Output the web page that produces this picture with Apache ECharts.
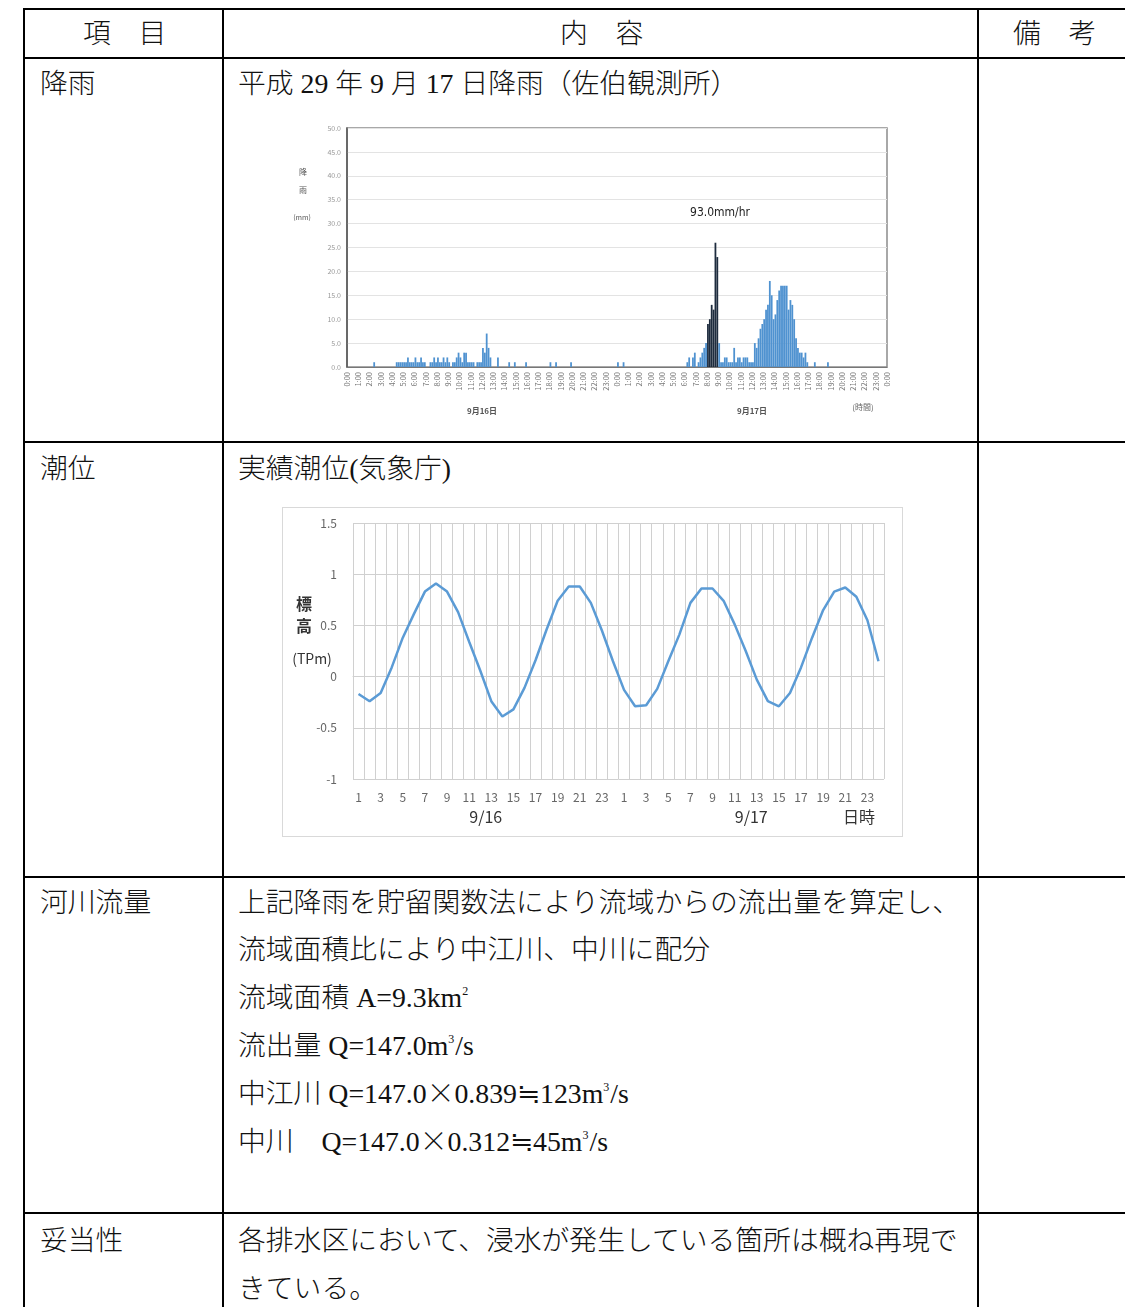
<!DOCTYPE html>
<html><head><meta charset="utf-8">
<script src="https://cdn.jsdelivr.net/npm/echarts@6/dist/echarts.min.js"></script>
<style>
html,body{margin:0;padding:0;background:#fff;}
body{width:1125px;height:1307px;position:relative;overflow:hidden;font-family:"Liberation Serif","Noto Sans CJK JP",serif;color:#111;}
.h{position:absolute;height:2px;background:#000;left:23px;right:0;}
.v{position:absolute;width:2px;background:#000;top:8px;bottom:0;}
.t{position:absolute;font-size:27.8px;line-height:32px;white-space:nowrap;font-weight:300;}
.j{font-family:"Noto Sans CJK JP",sans-serif;line-height:0;}
sup{font-size:12px;vertical-align:baseline;position:relative;top:-12px;line-height:0;margin-right:1px;}
#rain{position:absolute;left:280px;top:115px;width:630px;height:320px;}
#tideBox{position:absolute;left:282px;top:507px;width:621px;height:330px;border:1px solid #d9d9d9;box-sizing:border-box;}
#tide{position:absolute;left:282px;top:507px;width:621px;height:330px;}
</style></head>
<body>
<div class="h" style="top:8px"></div>
<div class="h" style="top:57px"></div>
<div class="h" style="top:441px"></div>
<div class="h" style="top:876px"></div>
<div class="h" style="top:1212px"></div>
<div class="v" style="left:23px"></div>
<div class="v" style="left:222px"></div>
<div class="v" style="left:977px"></div>

<div class="t" style="left:83px;top:18px">項　目</div>
<div class="t" style="left:560px;top:18px">内　容</div>
<div class="t" style="left:1013px;top:18px">備　考</div>

<div class="t" style="left:40px;top:68px">降雨</div>
<div class="t" style="left:238px;top:68px">平成 29 年 9 月 17 日降雨（佐伯観測所）</div>

<div class="t" style="left:40px;top:453px">潮位</div>
<div class="t" style="left:238px;top:453px">実績潮位(気象庁)</div>

<div class="t" style="left:40px;top:887px">河川流量</div>
<div class="t" style="left:238px;top:887px">上記降雨を貯留関数法により流域からの流出量を算定し、</div>
<div class="t" style="left:238px;top:934px">流域面積比により中江川、中川に配分</div>
<div class="t" style="left:238px;top:982px">流域面積 A=9.3km<sup>2</sup></div>
<div class="t" style="left:238px;top:1030px">流出量 Q=147.0m<sup>3</sup>/s</div>
<div class="t" style="left:238px;top:1078px">中江川 Q=147.0<span class="j">×</span>0.839<span class="j">≒</span>123m<sup>3</sup>/s</div>
<div class="t" style="left:238px;top:1126px">中川　Q=147.0<span class="j">×</span>0.312<span class="j">≒</span>45m<sup>3</sup>/s</div>

<div class="t" style="left:40px;top:1225px">妥当性</div>
<div class="t" style="left:238px;top:1225px">各排水区において、浸水が発生している箇所は概ね再現で</div>
<div class="t" style="left:238px;top:1273px">きている。</div>

<div id="rain"></div>
<div id="tideBox"></div>
<div id="tide"></div>

<script>
// ---- Rainfall (10-minute values, mm) 9/16 0:00 - 9/17 24:00, one row per hour ----
const rain10min = [
  0,0,0,0,0,0,
  0,0,0,0,0,0,
  0,0,1,0,0,0,
  0,0,0,0,0,0,
  0,0,1,1,1,1,
  1,1,2,1,1,1,
  2,1,1,2,1,1,
  0,0,1,1,2,1,
  2,1,1,2,1,2,
  1,0,1,1,2,3,
  2,1,3,3,1,1,
  1,1,0,1,1,1,
  4,3,7,4,2,0,
  0,0,2,0,0,0,
  0,0,1,0,0,1,
  0,0,0,0,0,1,
  0,0,0,0,0,0,
  0,0,0,0,0,0,
  1,0,0,1,0,0,
  0,0,0,0,0,1,
  0,0,0,0,0,0,
  0,0,0,0,0,0,
  0,0,0,0,0,0,
  0,0,0,0,0,0,
  1,0,0,1,0,0,
  0,0,0,0,0,0,
  0,0,0,0,0,0,
  0,0,0,0,0,0,
  0,0,0,0,0,0,
  0,0,0,0,0,0,
  0,1,2,0,2,3,
  0,1,2,3,4,5,
  9,10,13,12,26,23,
  5,1,1,2,2,1,
  1,1,4,1,2,2,
  1,2,2,2,1,1,
  1,5,4,6,8,9,
  10,12,13,18,15,10,
  11,14,16,17,17,17,
  17,12,14,13,10,6,
  4,3,3,2,3,1,
  0,0,0,1,0,0,
  0,0,0,0,1,0,
  0,0,0,0,0,0,
  0,0,0,0,0,0,
  0,0,0,0,0,0,
  0,0,0,0,0,0,
  0,0,0,0,0,0
];
// slots forming the maximum hourly rainfall (93.0 mm/hr)
const peakSlots = [192,193,194,195,196,197];
const peakLabel = "93.0mm/hr";
const rainHourLabels = [
  "0:00","1:00","2:00","3:00","4:00","5:00","6:00","7:00","8:00","9:00","10:00","11:00",
  "12:00","13:00","14:00","15:00","16:00","17:00","18:00","19:00","20:00","21:00","22:00","23:00",
  "0:00","1:00","2:00","3:00","4:00","5:00","6:00","7:00","8:00","9:00","10:00","11:00",
  "12:00","13:00","14:00","15:00","16:00","17:00","18:00","19:00","20:00","21:00","22:00","23:00",
  "0:00"
];
const rainDays = ["9月16日","9月17日"];
const rainYTicks = {min:0, max:50, interval:5};

// ---- Tide level (TPm), hourly ----
const tideHours = [
  "1","2","3","4","5","6","7","8","9","10","11","12","13","14","15","16","17","18","19","20","21","22","23","24",
  "1","2","3","4","5","6","7","8","9","10","11","12","13","14","15","16","17","18","19","20","21","22","23","24"
];
const tide0916 = [-0.17,-0.24,-0.16,0.09,0.38,0.61,0.83,0.91,0.83,0.63,0.34,0.06,-0.24,-0.39,-0.32,-0.11,0.16,0.46,0.74,0.88,0.88,0.72,0.45,0.15];
const tide0917 = [-0.13,-0.29,-0.28,-0.12,0.15,0.41,0.72,0.86,0.86,0.74,0.51,0.25,-0.03,-0.24,-0.29,-0.16,0.09,0.38,0.65,0.83,0.87,0.78,0.55,0.15];
const tideDays = ["9/16","9/17"];
const tideYTicks = {min:-1, max:1.5, interval:0.5};

const FF = '"Noto Sans CJK JP", sans-serif';

// ---------- Rain chart ----------
const rainSlots = rain10min.map((_, i) => i);
const rainData = rain10min.map((v, i) => peakSlots.includes(i)
  ? {value: v, itemStyle: {color: '#1e2c3e'}}
  : v);
const rain = echarts.init(document.getElementById('rain'), null, {renderer:'canvas'});
rain.setOption({
  animation:false,
  textStyle:{fontFamily:FF},
  grid:{left:67,right:23,top:13,bottom:68,show:true,borderColor:'#8c8c8c',borderWidth:1.5,outerBoundsMode:'none'},
  xAxis:[
    {type:'category',data:rainSlots,boundaryGap:true,
     axisLine:{show:true,lineStyle:{color:'#777',width:1}},axisTick:{show:false},
     axisLabel:{show:false},splitLine:{show:false}},
    {type:'category',data:rainHourLabels,boundaryGap:false,position:'bottom',offset:0,
     axisLine:{show:false},axisTick:{show:false},splitLine:{show:false},
     axisLabel:{interval:0,rotate:90,fontSize:7.5,color:'#7a7a7a',margin:5,fontFamily:FF}},
    {type:'category',data:rainDays,boundaryGap:true,position:'bottom',offset:36,
     axisLine:{show:false},axisTick:{show:false},splitLine:{show:false},
     axisLabel:{fontSize:8,fontWeight:'bold',color:'#555',margin:4,fontFamily:FF}}
  ],
  yAxis:{type:'value',min:rainYTicks.min,max:rainYTicks.max,interval:rainYTicks.interval,
    axisLine:{show:true,lineStyle:{color:'#555',width:1.5}},axisTick:{show:false},
    axisLabel:{fontSize:7,color:'#999',margin:6,formatter:v=>v.toFixed(1)},
    splitLine:{show:true,lineStyle:{color:'#e3e3e3',width:1}}},
  series:[{type:'bar',xAxisIndex:0,data:rainData,barCategoryGap:'5%',
    itemStyle:{color:'#4f92d0'}}],
  graphic:[
    {type:'text',x:23,y:57,style:{text:'降',font:'8px '+FF,fill:'#555',align:'center',verticalAlign:'middle'}},
    {type:'text',x:23,y:75,style:{text:'雨',font:'8px '+FF,fill:'#555',align:'center',verticalAlign:'middle'}},
    {type:'text',x:22,y:102,style:{text:'(mm)',font:'7px '+FF,fill:'#555',align:'center',verticalAlign:'middle'}},
    {type:'text',x:440,y:98,style:{text:peakLabel,font:'12px "Liberation Sans Narrow","DejaVu Sans Condensed",sans-serif',fill:'#222',align:'center',verticalAlign:'middle'}},
    {type:'text',x:583,y:292,style:{text:'(時間)',font:'8px '+FF,fill:'#666',align:'center',verticalAlign:'middle'}}
  ]
});

// ---------- Tide chart ----------
const tideLevel = tide0916.concat(tide0917);
const tide = echarts.init(document.getElementById('tide'), null, {renderer:'canvas'});
tide.setOption({
  animation:false,
  textStyle:{fontFamily:FF},
  grid:{left:71,right:19,top:16,bottom:58,outerBoundsMode:'none'},
  xAxis:[
    {type:'category',data:tideHours,boundaryGap:true,
     axisLine:{show:true,lineStyle:{color:'#d0d0d0'}},axisTick:{show:false},
     axisLabel:{interval:1,fontSize:12,color:'#666',margin:12,fontFamily:FF},
     splitLine:{show:true,interval:0,lineStyle:{color:'#d0d0d0',width:1}}},
    {type:'category',data:tideDays,boundaryGap:true,position:'bottom',offset:22,
     axisLine:{show:false},axisTick:{show:false},splitLine:{show:false},
     axisLabel:{fontSize:16,color:'#333',margin:8,fontFamily:FF}}
  ],
  yAxis:{type:'value',min:tideYTicks.min,max:tideYTicks.max,interval:tideYTicks.interval,
    axisLine:{show:false},axisTick:{show:false},
    axisLabel:{fontSize:12,color:'#666',margin:16,fontFamily:FF},
    splitLine:{show:true,lineStyle:{color:'#d0d0d0',width:1}}},
  series:[{type:'line',xAxisIndex:0,data:tideLevel,showSymbol:false,smooth:false,
    lineStyle:{color:'#5b9bd5',width:2.5},itemStyle:{color:'#5b9bd5'}}],
  graphic:[
    {type:'text',x:22,y:97,style:{text:'標',font:'bold 16px '+FF,fill:'#333',align:'center',verticalAlign:'middle'}},
    {type:'text',x:22,y:119,style:{text:'高',font:'bold 16px '+FF,fill:'#333',align:'center',verticalAlign:'middle'}},
    {type:'text',x:30,y:152,style:{text:'(TPm)',font:'14px '+FF,fill:'#333',align:'center',verticalAlign:'middle'}},
    {type:'text',x:577,y:310,style:{text:'日時',font:'16px '+FF,fill:'#333',align:'center',verticalAlign:'middle'}}
  ]
});
</script>
</body></html>
